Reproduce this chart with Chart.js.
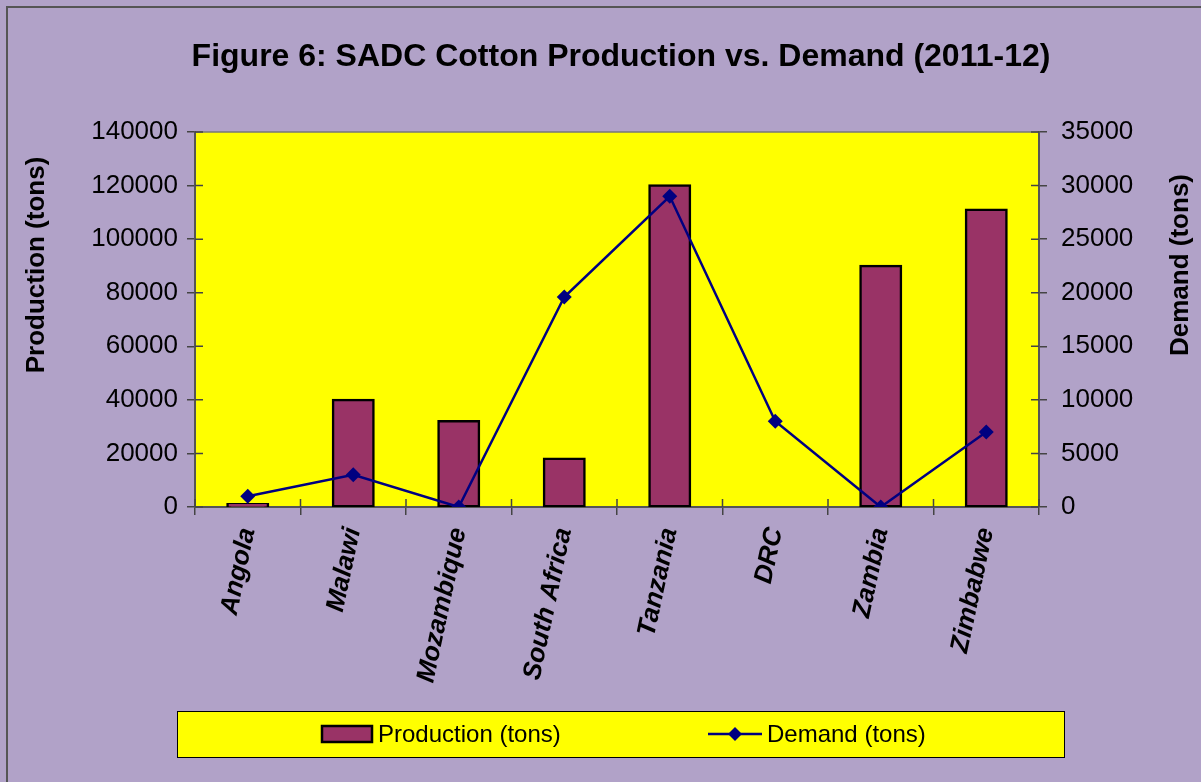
<!DOCTYPE html>
<html><head><meta charset="utf-8">
<script src="https://cdn.jsdelivr.net/npm/chart.js@4.4.0/dist/chart.umd.min.js"></script>
<style>html,body{margin:0;padding:0;background:#B1A2C8;overflow:hidden}canvas{display:block}</style>
</head><body>
<canvas id="c" width="1201" height="782"></canvas>
<script>
const categories = ['Angola','Malawi','Mozambique','South Africa','Tanzania','DRC','Zambia','Zimbabwe'];
const production = [1000, 40000, 32000, 18000, 120000, 0, 90000, 111000];
const demand = [1000, 3000, 0, 19600, 29000, 8000, 0, 7000];
const productionTicks = [0, 20000, 40000, 60000, 80000, 100000, 120000, 140000];
const demandTicks = [0, 5000, 10000, 15000, 20000, 25000, 30000, 35000];
const titleText = 'Figure 6: SADC Cotton Production vs. Demand (2011-12)';
const leftTitle = 'Production (tons)';
const rightTitle = 'Demand (tons)';

const FONT = "'Liberation Sans', Arial, sans-serif";
Chart.defaults.font.family = FONT;
Chart.defaults.color = '#000';

const decor = {
  id: 'decor',
  beforeDraw(chart) {
    const ctx = chart.ctx, a = chart.chartArea;
    ctx.save();
    ctx.fillStyle = '#B1A2C8';
    ctx.fillRect(0, 0, chart.width, chart.height);
    ctx.strokeStyle = '#555';
    ctx.lineWidth = 2;
    ctx.beginPath();
    ctx.moveTo(7, chart.height); ctx.lineTo(7, 7); ctx.lineTo(chart.width, 7);
    ctx.stroke();
    ctx.fillStyle = '#FFFF00';
    ctx.fillRect(a.left, a.top, a.right - a.left, a.bottom - a.top);
    ctx.strokeStyle = '#777';
    ctx.lineWidth = 1.5;
    ctx.beginPath();
    ctx.moveTo(a.left, a.top); ctx.lineTo(a.right, a.top);
    ctx.stroke();
    // chart title
    ctx.fillStyle = '#000';
    ctx.font = 'bold 32px ' + FONT;
    ctx.textAlign = 'center';
    ctx.textBaseline = 'alphabetic';
    ctx.fillText(titleText, 621, 66);
    ctx.restore();
  },
  afterDraw(chart) {
    const ctx = chart.ctx, a = chart.chartArea;
    ctx.save();
    // inner part of tick marks
    ctx.strokeStyle = '#444';
    ctx.lineWidth = 1.5;
    const sy = chart.scales.y, sy2 = chart.scales.y2, sx = chart.scales.x;
    ctx.beginPath();
    sy.ticks.forEach((t, i) => { const p = sy.getPixelForTick(i); ctx.moveTo(a.left, p); ctx.lineTo(a.left + 8, p); });
    sy2.ticks.forEach((t, i) => { const p = sy2.getPixelForTick(i); ctx.moveTo(a.right, p); ctx.lineTo(a.right - 8, p); });
    for (let i = 0; i <= categories.length; i++) {
      const p = sx.getPixelForValue(i - 0.5);
      ctx.moveTo(p, a.bottom); ctx.lineTo(p, a.bottom - 8);
    }
    ctx.stroke();
    // axis titles
    ctx.fillStyle = '#000';
    ctx.font = 'bold 26px ' + FONT;
    ctx.textAlign = 'center';
    ctx.textBaseline = 'middle';
    ctx.save(); ctx.translate(37, 265); ctx.rotate(-Math.PI / 2); ctx.fillText(leftTitle, 0, 0); ctx.restore();
    ctx.save(); ctx.translate(1181, 265); ctx.rotate(-Math.PI / 2); ctx.fillText(rightTitle, 0, 0); ctx.restore();
    // legend box
    const lx = 177, ly = 711, lw = 887, lh = 46, cy = ly + lh / 2;
    ctx.fillStyle = '#FFFF00';
    ctx.fillRect(lx, ly, lw, lh);
    ctx.strokeStyle = '#000';
    ctx.lineWidth = 1;
    ctx.strokeRect(lx + 0.5, ly + 0.5, lw, lh);
    const ds = chart.data.datasets;
    const bar = ds.find(d => d.type === 'bar');
    const line = ds.find(d => d.type === 'line');
    ctx.font = '24px ' + FONT;
    ctx.textAlign = 'left';
    ctx.textBaseline = 'middle';
    // bar entry
    ctx.fillStyle = bar.backgroundColor;
    ctx.fillRect(322, cy - 8, 50, 16);
    ctx.strokeStyle = '#000'; ctx.lineWidth = 2.5;
    ctx.strokeRect(322, cy - 8, 50, 16);
    ctx.fillStyle = '#000';
    ctx.fillText(bar.label, 378, cy + 1);
    // line entry
    ctx.strokeStyle = line.borderColor; ctx.lineWidth = 2.5;
    ctx.beginPath(); ctx.moveTo(708, cy); ctx.lineTo(762, cy); ctx.stroke();
    ctx.fillStyle = line.pointBackgroundColor;
    ctx.beginPath();
    ctx.moveTo(735, cy - 7); ctx.lineTo(742, cy); ctx.lineTo(735, cy + 7); ctx.lineTo(728, cy); ctx.closePath();
    ctx.fill();
    ctx.fillStyle = '#000';
    ctx.fillText(line.label, 767, cy + 1);
    ctx.restore();
  }
};

new Chart(document.getElementById('c'), {
  data: {
    labels: categories,
    datasets: [
      {
        type: 'line', label: 'Demand (tons)', data: demand, yAxisID: 'y2', order: 0,
        borderColor: '#000080', borderWidth: 2.5, pointStyle: 'rectRot', pointRadius: 7.5,
        pointBackgroundColor: '#000080', pointBorderColor: '#000080', pointBorderWidth: 0, tension: 0
      },
      {
        type: 'bar', label: 'Production (tons)', data: production, yAxisID: 'y', order: 1,
        backgroundColor: '#993366', borderColor: '#000', borderWidth: 2.5, borderSkipped: false,
        inflateAmount: 1.2, barPercentage: 0.385, categoryPercentage: 1.0
      }
    ]
  },
  options: {
    responsive: false, animation: false, devicePixelRatio: 1,
    layout: { padding: { top: 132, left: 0, right: 0, bottom: 75 } },
    plugins: {
      legend: { display: false }, tooltip: { enabled: false }, title: { display: false }
    },
    scales: {
      x: {
        offset: true,
        grid: { offset: true, drawOnChartArea: false, drawTicks: true, tickLength: 8, color: '#444', lineWidth: 1.5 },
        border: { color: '#555', width: 2 },
        ticks: { font: { size: 26, weight: 'bold', style: 'italic' }, color: '#000', minRotation: 78, maxRotation: 78, padding: 10, autoSkip: false },
        afterFit: s => { s.height = 200; }
      },
      y: {
        position: 'left', min: 0, max: 140000,
        afterBuildTicks: s => { s.ticks = productionTicks.map(v => ({ value: v })); },
        grid: { drawOnChartArea: false, tickLength: 8, color: '#444', lineWidth: 1.5 },
        border: { color: '#555', width: 2 },
        ticks: { font: { size: 26 }, color: '#000', padding: 9, callback: v => String(v) },
        afterFit: s => { s.width = 195; }
      },
      y2: {
        position: 'right', min: 0, max: 35000,
        afterBuildTicks: s => { s.ticks = demandTicks.map(v => ({ value: v })); },
        grid: { drawOnChartArea: false, tickLength: 8, color: '#444', lineWidth: 1.5 },
        border: { color: '#555', width: 2 },
        ticks: { font: { size: 26 }, color: '#000', padding: 14, callback: v => String(v) },
        afterFit: s => { s.width = 162; }
      }
    }
  },
  plugins: [decor]
});
</script>
</body></html>
